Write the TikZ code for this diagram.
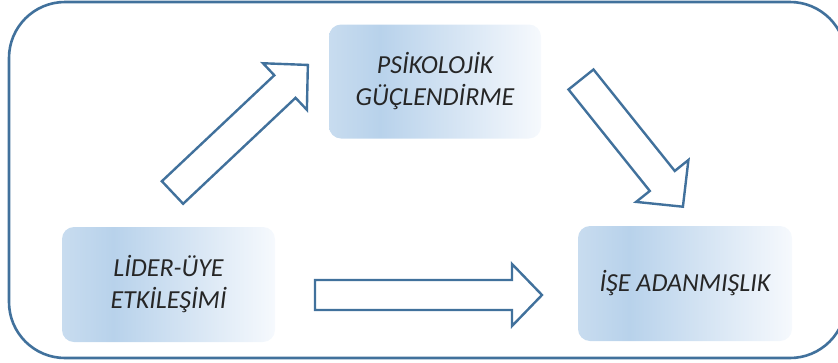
\documentclass[tikz,border=0pt]{standalone}
\usepackage{fontspec}
\setmainfont{Carlito}
\definecolor{frameblue}{HTML}{41719C}
\definecolor{fadeA}{HTML}{C8DCEF}
\definecolor{fadeB}{HTML}{B8D2EB}
\definecolor{fadeC}{HTML}{F6F9FD}
% left-to-right fade used inside the concept boxes
\pgfdeclarehorizontalshading{boxfade}{100bp}{%
  color(0bp)=(fadeA); color(25bp)=(fadeA); color(37bp)=(fadeB);
  color(75bp)=(fadeC); color(100bp)=(fadeC)}
% block arrow: tail centre (#1,#2), angle #3, length #4,
% shaft width #5, head width #6, head length #7
\newcommand\blockarrow[7]{%
  \draw[arrowline, shift={(#1,#2)}, rotate=#3]
    (0,{-#5/2}) -- ({#4-#7},{-#5/2}) -- ({#4-#7},{-#6/2}) -- (#4,0)
    -- ({#4-#7},{#6/2}) -- ({#4-#7},{#5/2}) -- (0,{#5/2}) -- cycle;}
\tikzset{
  concept/.style={shading=boxfade, rounded corners=12pt, inner sep=0pt,
    minimum width=#1, minimum height=115pt, align=center,
    font=\fontsize{26}{32}\selectfont\itshape, text=black!85},
  arrowline/.style={draw=frameblue, line width=2.4pt, fill=white,
    line join=miter},
}
\begin{document}
\begin{tikzpicture}[x=1pt, y=-1pt]
  \useasboundingbox (0,0) rectangle (838,362);
  \clip (0,0) rectangle (838,362);
  % outer frame (its right side runs past the page edge)
  \draw[frameblue, line width=2.6pt, rounded corners=56pt]
    (9,2) rectangle (846,358);
  % concepts
  \node[concept=212pt, minimum height=114pt] (pg) at (435,81.5)
    {PSİKOLOJİK\\GÜÇLENDİRME};
  \node[concept=213pt] (lmx) at (168.5,284.5) {LİDER-ÜYE\\ETKİLEŞİMİ};
  \node[concept=214pt] (wc) at (685,283.5) {İŞE ADANMIŞLIK};
  % block arrows between the concepts
  \blockarrow{172.5}{192.5}{43.3}{186}{31}{64}{31.5}
  \blockarrow{581}{79.5}{-51.3}{163}{32}{67}{33}
  \blockarrow{315}{295}{0}{227}{30}{62}{30}
\end{tikzpicture}
\end{document}
